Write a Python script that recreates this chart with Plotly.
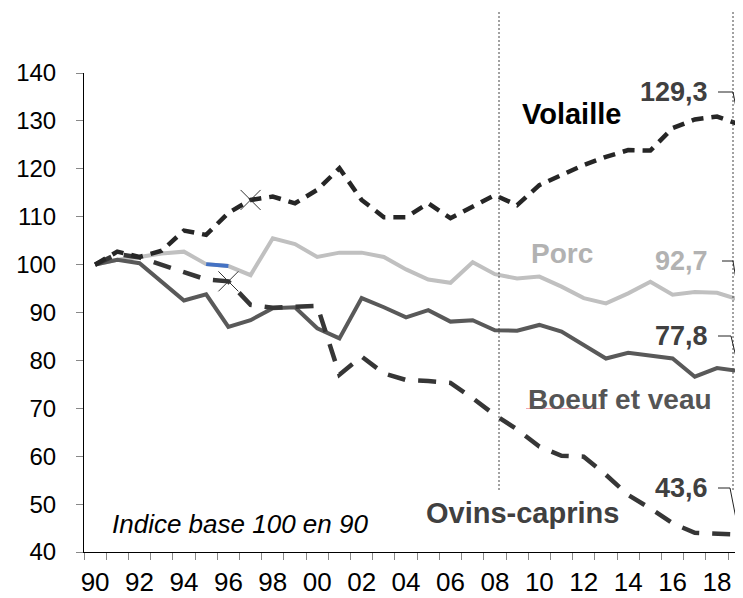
import plotly.graph_objects as go

# ---------------- data ----------------
years = list(range(1990, 2020))
volaille = [100, 102.7, 101.6, 102.9, 107.1, 106.2, 110.8, 113.5, 114.2, 112.8,
            115.6, 120.1, 113.5, 109.9, 109.9, 112.8, 109.7, 112.1, 114.5, 112.4,
            116.6, 118.7, 120.8, 122.5, 123.9, 123.8, 128.5, 130.3, 130.9, 129.3]
porc = [100, 101.0, 101.6, 102.3, 102.7, 100.1, 99.7, 97.8, 105.5, 104.3,
        101.6, 102.5, 102.5, 101.6, 99.0, 96.9, 96.2, 100.5, 98.0, 97.1,
        97.5, 95.4, 93.0, 91.9, 94.0, 96.4, 93.7, 94.3, 94.1, 92.7]
boeuf = [100, 101.0, 100.3, 96.4, 92.5, 93.8, 87.0, 88.4, 90.9, 91.1,
         86.7, 84.6, 93.0, 91.1, 89.0, 90.5, 88.1, 88.4, 86.3, 86.2,
         87.4, 86.0, 83.2, 80.4, 81.6, 81.1, 80.4, 76.6, 78.4, 77.8]
ovins = [100, 102.2, 101.5, 100.0, 98.3, 96.9, 96.5, 91.6, 91.0, 91.2,
         91.4, 77.0, 80.8, 77.3, 75.9, 75.7, 75.3, 72.1, 68.6, 65.6,
         62.0, 60.1, 59.9, 56.1, 51.9, 49.1, 46.0, 44.0, 43.8, 43.6]
tick_years = list(range(1990, 2019, 2))
tick_text = [f"{y % 100:02d}" for y in tick_years]
y_ticks = list(range(40, 141, 10))
series_names = ["Volaille", "Porc", "Boeuf et veau", "Ovins-caprins"]
note_text = "Indice base 100 en 90"

# ---------------- layout helpers ----------------
FONT = "Arial, Liberation Sans, sans-serif"
OFF = 8                       # default page (body) margin
PAGE_W, PAGE_H = 743, 598
W, H = PAGE_W - OFF, PAGE_H - OFF
PL, PT = 84, 73               # plot-area left / top in page pixels
PW, PH = PAGE_W - PL, 479     # plot-area size
ML, MT = PL - OFF, PT - OFF
MR = W - ML - PW
MB = H - MT - PH
X0, X1 = 1989.5, 2019.17


def px_x(px):
    return X0 + (px - PL) / PW * (X1 - X0)


def px_y(py):
    return 140 - (py - PT) / PH * 100


def paper_x(px):
    return (px - PL) / PW


def paper_y(py):
    return 1 - (py - PT) / PH


def fmt(v):
    return f"{v:.1f}".replace(".", ",")


fig = go.Figure()
fig.add_trace(go.Scatter(x=years, y=porc, mode="lines",
                         line=dict(color="#c0c0c0", width=4), hoverinfo="skip"))
fig.add_trace(go.Scatter(x=years[5:7], y=porc[5:7], mode="lines",
                         line=dict(color="#4472c4", width=4), hoverinfo="skip"))
fig.add_trace(go.Scatter(x=years, y=boeuf, mode="lines",
                         line=dict(color="#595959", width=4), hoverinfo="skip"))
fig.add_trace(go.Scatter(x=years, y=ovins, mode="lines",
                         line=dict(color="#363636", width=4.5, dash="18px,13px"),
                         hoverinfo="skip"))
fig.add_trace(go.Scatter(x=years, y=volaille, mode="lines",
                         line=dict(color="#262626", width=4.5, dash="12px,8px"),
                         hoverinfo="skip"))
# selection marks
fig.add_trace(go.Scatter(x=[years[7], years[6]], y=[volaille[7], ovins[6]], mode="markers",
                         marker=dict(symbol="x-thin-open", size=20, color="#333333",
                                     line=dict(color="#333333", width=1)),
                         hoverinfo="skip"))

shapes = []
# vertical dotted markers
for pxv in (499, 733):
    shapes.append(dict(type="line", xref="paper", yref="paper",
                       x0=paper_x(pxv), x1=paper_x(pxv),
                       y0=paper_y(12), y1=paper_y(492),
                       line=dict(color="#444444", width=1, dash="2px,2px")))

# value labels with leader lines
vals = [(volaille[-1], 92, "#404040", 718, 733),
        (porc[-1], 261, "#b2b2b2", 722, 733),
        (boeuf[-1], 336, "#404040", 718, 731),
        (ovins[-1], 488, "#404040", 718, 730)]
annotations = []
for v, yc, col, hx0, hx1 in vals:
    annotations.append(dict(x=px_x(710), y=px_y(yc), xref="x", yref="y",
                            text=f"<b>{fmt(v)}</b>", showarrow=False,
                            xanchor="right", yanchor="middle",
                            font=dict(family=FONT, size=27, color=col)))
    shapes.append(dict(type="line", xref="x", yref="y",
                       x0=px_x(hx0), x1=px_x(hx1), y0=px_y(yc), y1=px_y(yc),
                       line=dict(color="#222222", width=1)))
    shapes.append(dict(type="line", xref="x", yref="y",
                       x0=px_x(hx1), x1=years[-1], y0=px_y(yc), y1=v,
                       line=dict(color="#222222", width=1)))

# series labels
labels = [(series_names[0], 520, 114, "#000000", 29),
          (series_names[1], 529, 253, "#b2b2b2", 28),
          (series_names[2], 526, 399, "#555555", 28),
          (series_names[3], 424, 513, "#404040", 29)]
for t, lx, ly, col, sz in labels:
    annotations.append(dict(x=px_x(lx), y=px_y(ly), xref="x", yref="y", text=f"<b>{t}</b>",
                            showarrow=False, xanchor="left", yanchor="middle",
                            font=dict(family=FONT, size=sz, color=col)))
annotations.append(dict(x=px_x(110), y=px_y(524), xref="x", yref="y",
                        text=f"<i>{note_text}</i>", showarrow=False,
                        xanchor="left", yanchor="middle",
                        font=dict(family=FONT, size=26, color="#000000")))
# spell-check squiggle under "Boeuf"
shapes.append(dict(type="line", xref="x", yref="y",
                   x0=px_x(526), x1=px_x(605), y0=px_y(408.5), y1=px_y(408.5),
                   line=dict(color="#f2a7b0", width=1)))

fig.update_layout(
    width=W, height=H,
    margin=dict(l=ML, r=MR, t=MT, b=MB, pad=0, autoexpand=False),
    paper_bgcolor="white", plot_bgcolor="white",
    showlegend=False,
    shapes=shapes, annotations=annotations,
    xaxis=dict(range=[X0, X1], tickmode="array", tickvals=tick_years, ticktext=tick_text,
               ticks="", showgrid=False, zeroline=False, showline=True, automargin=False,
               linecolor="black", linewidth=1, ticklabelstandoff=7,
               tickfont=dict(family=FONT, size=26, color="black"),
               minor=dict(tickvals=[y - 0.5 for y in years] + [years[-1] + 0.5],
                          ticks="outside", ticklen=7, tickcolor="#888888",
                          tickwidth=1, showgrid=False)),
    yaxis=dict(range=[40, 140], tickmode="array", tickvals=y_ticks, automargin=False,
               ticks="outside", ticklen=7, tickcolor="#888888", tickwidth=1,
               showgrid=False, zeroline=False, showline=True,
               linecolor="black", linewidth=1, ticklabelstandoff=15,
               tickfont=dict(family=FONT, size=24, color="black")),
)

fig.write_html("out.html")
